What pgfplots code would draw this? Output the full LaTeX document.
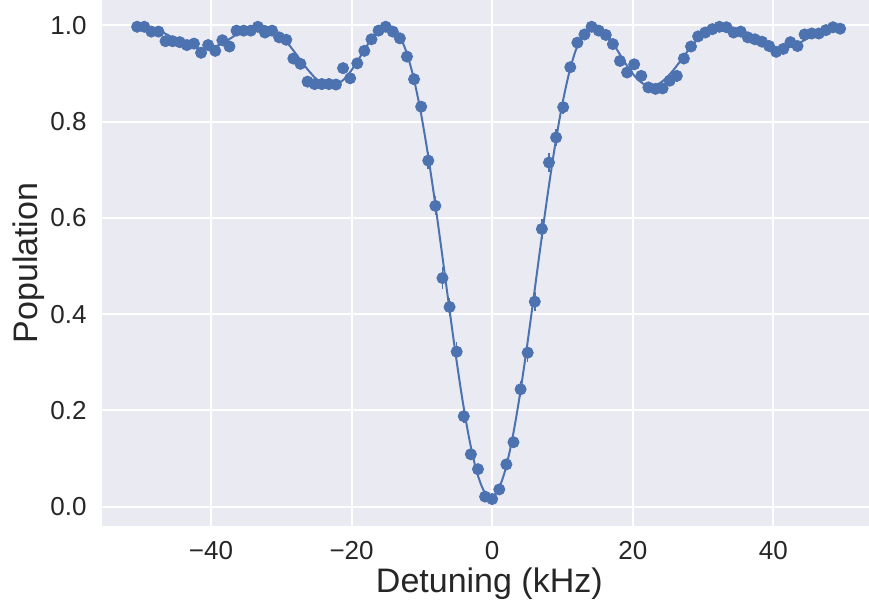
\documentclass[border=0pt]{standalone}
\usepackage{fontspec}
\setmainfont{Liberation Sans}
\usepackage{pgfplots}
\usepackage{pgfplotstable}
\pgfplotsset{compat=1.18}
\definecolor{sbblue}{HTML}{4C72B0}
\definecolor{sbbg}{HTML}{EAEAF2}
\definecolor{sbtext}{HTML}{262626}

\pgfplotstableread{
x y e
-50.50 0.997 0.006
-49.49 0.997 0.006
-48.48 0.987 0.006
-47.47 0.987 0.006
-46.46 0.967 0.006
-45.45 0.967 0.006
-44.44 0.965 0.006
-43.43 0.959 0.006
-42.42 0.962 0.006
-41.41 0.943 0.006
-40.40 0.959 0.006
-39.39 0.947 0.006
-38.38 0.969 0.006
-37.37 0.956 0.006
-36.36 0.989 0.006
-35.35 0.989 0.006
-34.34 0.989 0.006
-33.33 0.997 0.006
-32.32 0.985 0.006
-31.31 0.989 0.006
-30.30 0.975 0.006
-29.29 0.970 0.006
-28.28 0.931 0.006
-27.27 0.920 0.006
-26.26 0.883 0.012
-25.25 0.878 0.012
-24.24 0.878 0.012
-23.23 0.878 0.012
-22.22 0.877 0.012
-21.21 0.911 0.006
-20.20 0.890 0.006
-19.19 0.921 0.006
-18.18 0.947 0.006
-17.17 0.971 0.006
-16.16 0.989 0.006
-15.15 0.997 0.006
-14.14 0.987 0.006
-13.13 0.973 0.006
-12.12 0.935 0.010
-11.11 0.888 0.010
-10.10 0.831 0.010
-9.09 0.719 0.017
-8.08 0.625 0.020
-7.07 0.475 0.022
-6.06 0.415 0.018
-5.05 0.322 0.020
-4.04 0.188 0.015
-3.03 0.109 0.010
-2.02 0.078 0.008
-1.01 0.021 0.006
0.00 0.016 0.006
1.01 0.036 0.006
2.02 0.088 0.010
3.03 0.134 0.013
4.04 0.244 0.017
5.05 0.320 0.019
6.06 0.426 0.020
7.07 0.577 0.020
8.08 0.715 0.019
9.09 0.767 0.018
10.10 0.830 0.015
11.11 0.913 0.010
12.12 0.964 0.006
13.13 0.981 0.006
14.14 0.997 0.006
15.15 0.989 0.006
16.16 0.980 0.006
17.17 0.961 0.006
18.18 0.926 0.006
19.19 0.902 0.008
20.20 0.919 0.006
21.21 0.895 0.012
22.22 0.871 0.012
23.23 0.868 0.012
24.24 0.869 0.012
25.25 0.885 0.012
26.26 0.895 0.012
27.27 0.931 0.006
28.28 0.956 0.006
29.29 0.977 0.006
30.30 0.985 0.006
31.31 0.992 0.006
32.32 0.997 0.006
33.33 0.996 0.006
34.34 0.985 0.006
35.35 0.987 0.006
36.36 0.975 0.006
37.37 0.971 0.006
38.38 0.966 0.006
39.39 0.957 0.006
40.40 0.945 0.006
41.41 0.951 0.006
42.42 0.965 0.006
43.43 0.957 0.006
44.44 0.981 0.006
45.45 0.983 0.006
46.46 0.983 0.006
47.47 0.990 0.006
48.48 0.996 0.006
49.49 0.993 0.006
}\datatable

\pgfplotstableread{
x y
-50.2 0.9999
-49.2 0.9981
-48.2 0.9940
-47.2 0.9879
-46.2 0.9804
-45.2 0.9722
-44.2 0.9643
-43.2 0.9576
-42.2 0.9530
-41.2 0.9512
-40.2 0.9526
-39.2 0.9571
-38.2 0.9642
-37.2 0.9731
-36.2 0.9825
-35.2 0.9911
-34.2 0.9974
-33.2 1.0000
-32.2 0.9979
-31.2 0.9906
-30.2 0.9801
-29.2 0.9647
-28.2 0.9463
-27.2 0.9265
-26.2 0.9075
-25.2 0.8911
-24.2 0.8796
-23.2 0.8744
-22.2 0.8761
-21.2 0.8863
-20.2 0.9030
-19.2 0.9244
-18.2 0.9484
-17.2 0.9716
-16.2 0.9900
-15.2 0.9997
-14.2 0.9962
-13.2 0.9785
-12.2 0.9446
-11.2 0.8924
-10.2 0.8228
-9.2 0.7374
-8.2 0.6394
-7.2 0.5330
-6.2 0.4236
-5.2 0.3171
-4.2 0.2194
-3.2 0.1364
-2.2 0.0731
-1.2 0.0335
-0.2 0.0200
0.8 0.0335
1.8 0.0731
2.8 0.1364
3.8 0.2194
4.8 0.3171
5.8 0.4236
6.8 0.5330
7.8 0.6394
8.8 0.7374
9.8 0.8228
10.8 0.8924
11.8 0.9446
12.8 0.9785
13.8 0.9962
14.8 0.9997
15.8 0.9900
16.8 0.9716
17.8 0.9484
18.8 0.9244
19.8 0.9030
20.8 0.8863
21.8 0.8761
22.8 0.8744
23.8 0.8796
24.8 0.8911
25.8 0.9075
26.8 0.9265
27.8 0.9463
28.8 0.9647
29.8 0.9801
30.8 0.9906
31.8 0.9979
32.8 1.0000
33.8 0.9974
34.8 0.9911
35.8 0.9825
36.8 0.9731
37.8 0.9642
38.8 0.9571
39.8 0.9526
40.8 0.9512
41.8 0.9530
42.8 0.9576
43.8 0.9643
44.8 0.9722
45.8 0.9804
46.8 0.9879
47.8 0.9940
48.8 0.9981
49.8 0.9999
}\fittable

\begin{document}
\begin{tikzpicture}
\begin{axis}[
  scale only axis,
  width=383.5pt, height=263pt,
  xmin=-55.5, xmax=53.6,
  ymin=-0.040, ymax=1.0526,
  axis background/.style={fill=sbbg},
  axis line style={draw=none},
  major tick length=0pt,
  grid=major,
  major grid style={white, line width=1pt},
  xtick={-40,-20,0,20,40},
  xticklabels={−40,−20,0,20,40},
  ytick={0,0.2,0.4,0.6,0.8,1.0},
  yticklabels={0.0,0.2,0.4,0.6,0.8,1.0},
  tick label style={font=\fontsize{13}{15}\selectfont, text=sbtext},
  xticklabel style={anchor=base, inner sep=0pt, yshift=-16.5pt},
  yticklabel style={anchor=east, inner sep=0pt, xshift=-7.5pt},
  xlabel={Detuning (kHz)},
  ylabel={Population},
  xlabel style={font=\fontsize{17}{20}\selectfont, text=sbtext, at={(axis description cs:0.505,-0.1255)}, anchor=base},
  ylabel style={font=\fontsize{17}{20}\selectfont, text=sbtext, at={(axis description cs:-0.0847,0.5)}, anchor=base},
  clip=true,
]
\coordinate (sw) at (rel axis cs:0,0);
\coordinate (ne) at (rel axis cs:1,1);
\addplot[sbblue, line width=1pt, smooth] table[x=x,y=y] {\fittable};
\addplot[sbblue, only marks, mark=*, mark size=2.8pt,
  mark options={fill=sbblue, draw=none},
  error bars/.cd, y dir=both, y explicit,
  error bar style={line width=0.8pt, sbblue}, error mark=none]
  table[x=x,y=y,y error=e] {\datatable};
\end{axis}
\pgfresetboundingbox
\path (sw) ++(-51pt,-40.5pt) rectangle (ne);
\end{tikzpicture}
\end{document}
